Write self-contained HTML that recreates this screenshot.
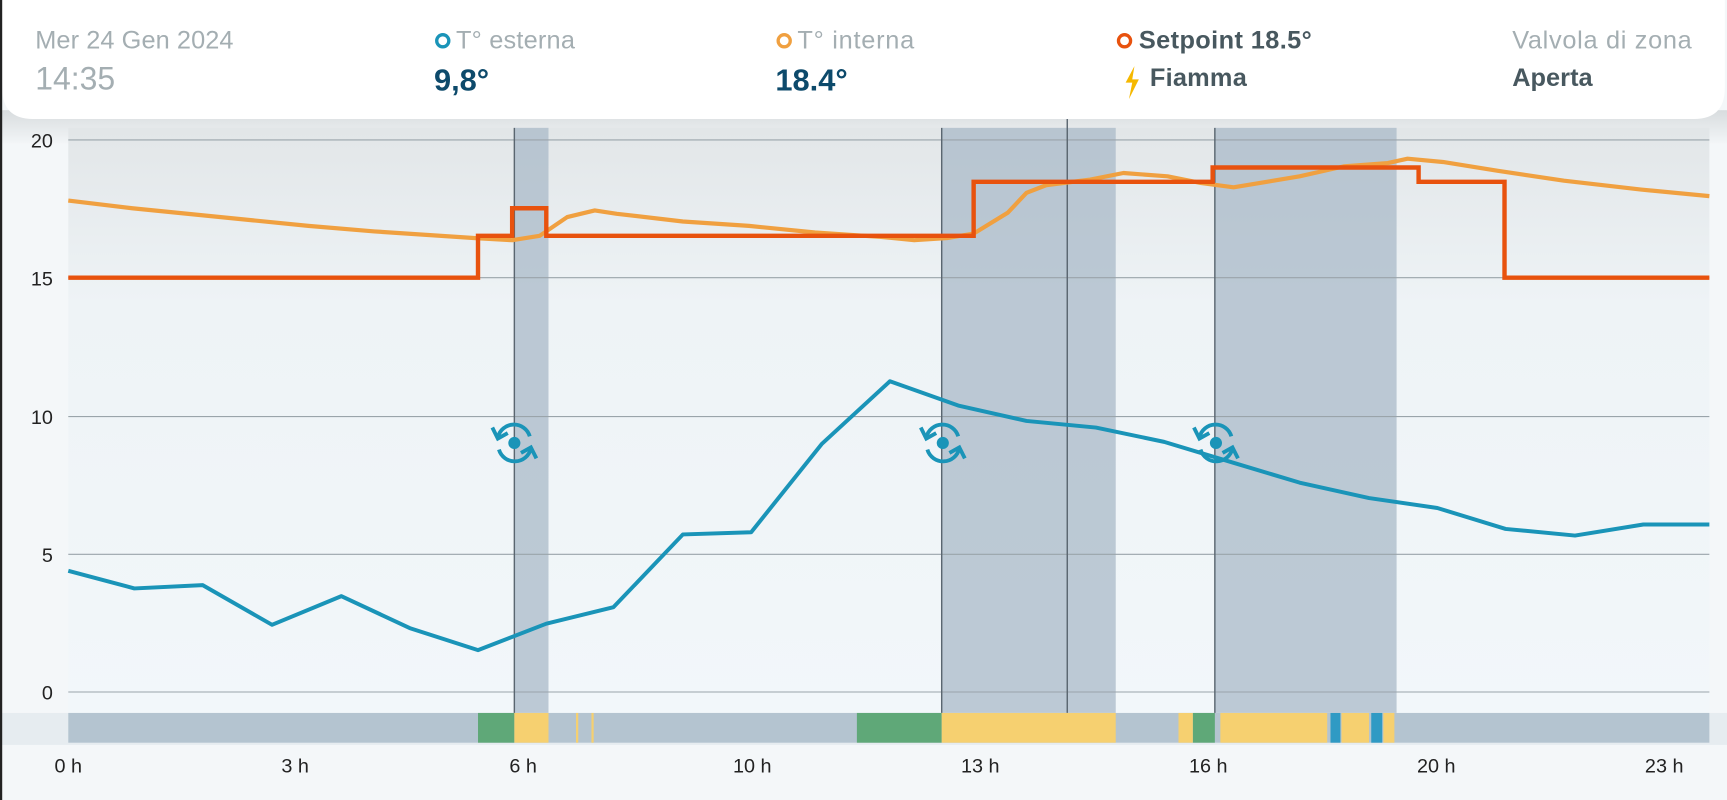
<!DOCTYPE html>
<html><head><meta charset="utf-8"><style>
html,body{margin:0;padding:0;background:#f3f6f8;}
svg{display:block;font-family:"Liberation Sans",sans-serif;}
</style></head><body>
<svg width="1727" height="800" viewBox="0 0 1568 726" preserveAspectRatio="none">
<defs>
<linearGradient id="bg" x1="0" y1="0" x2="0" y2="1">
<stop offset="0" stop-color="#e2e6e8"/><stop offset="0.3" stop-color="#eef3f6"/><stop offset="1" stop-color="#f2f7fa"/>
</linearGradient>
<linearGradient id="sh" x1="0" y1="0" x2="0" y2="1">
<stop offset="0" stop-color="#d8dcde"/><stop offset="1" stop-color="#f2f5f7"/>
</linearGradient>
</defs>
<rect x="0" y="0" width="1568" height="726" fill="#f4f7f9"/>
<rect x="0" y="100" width="1568" height="30" fill="url(#sh)"/>
<rect x="62" y="116" width="1490" height="531" fill="url(#bg)"/>
<g fill="#a9bac8" opacity="0.75">
<rect x="467" y="116" width="31" height="531"/>
<rect x="855" y="116" width="158" height="531"/>
<rect x="1103" y="116" width="165" height="531"/>
</g>
<g stroke="#9aa4aa" stroke-width="1">
<line x1="62" y1="127" x2="1552" y2="127"/>
<line x1="62" y1="252" x2="1552" y2="252"/>
<line x1="62" y1="378" x2="1552" y2="378"/>
<line x1="62" y1="503" x2="1552" y2="503"/>
<line x1="62" y1="628" x2="1552" y2="628"/>
</g>
<g stroke="#5a6670" stroke-width="1.3">
<line x1="467" y1="116" x2="467" y2="647"/>
<line x1="855" y1="116" x2="855" y2="647"/>
<line x1="969" y1="100" x2="969" y2="647"/>
<line x1="1103" y1="116" x2="1103" y2="647"/>
</g>
<g font-size="18" fill="#222" text-anchor="end">
<text x="48" y="134">20</text><text x="48" y="259">15</text><text x="48" y="385">10</text><text x="48" y="510">5</text><text x="48" y="635">0</text>
</g>
<rect x="0" y="647" width="1568" height="29" fill="#e6ecf0"/>
<rect x="62" y="647" width="1490" height="27" fill="#b4c4d0"/>
<g fill="#5fa878">
<rect x="434" y="647" width="33" height="27"/><rect x="778" y="647" width="77" height="27"/><rect x="1083" y="647" width="20" height="27"/>
</g>
<g fill="#f6d070">
<rect x="467" y="647" width="31" height="27"/><rect x="855" y="647" width="158" height="27"/><rect x="1070" y="647" width="13" height="27"/>
<rect x="1108" y="647" width="97" height="27"/><rect x="1218" y="647" width="25" height="27"/><rect x="1256" y="647" width="10" height="27"/>
<rect x="523" y="647" width="2" height="27"/><rect x="537" y="647" width="2" height="27"/>
</g>
<g fill="#2f9ac4"><rect x="1208" y="647" width="9" height="27"/><rect x="1245" y="647" width="10" height="27"/></g>
<g font-size="18" fill="#222" text-anchor="middle">
<text x="62" y="701">0 h</text><text x="268" y="701">3 h</text><text x="475" y="701">6 h</text><text x="683" y="701">10 h</text>
<text x="890" y="701">13 h</text><text x="1097" y="701">16 h</text><text x="1304" y="701">20 h</text><text x="1511" y="701">23 h</text>
</g>
<polyline fill="none" stroke="#f0a040" stroke-width="3.8" stroke-linejoin="round" points="62,182 120,189 230,200 280,205 340,210 430,216 465,218 490,214 515,197 540,191 560,194 620,201 680,205 740,211 800,215 830,218 860,216 884,212 915,193 932,175 950,168 990,163 1020,157 1060,160 1090,166 1120,170 1180,160 1220,151 1260,148 1278,144 1310,147 1360,155 1420,164 1490,172 1552,178"/>
<polyline fill="none" stroke="#e8520e" stroke-width="4" points="62,252 434,252 434,214 465,214 465,189 496,189 496,214 884,214 884,165 1101,165 1101,152 1288,152 1288,165 1366,165 1366,252 1552,252"/>
<polyline fill="none" stroke="#1a94b8" stroke-width="3.6" stroke-linejoin="round" points="62,518 122,534 184,531 247,567 310,541 372,570 434,590 496,566 557,551 620,485 682,483 746,403 808,346 870,368 932,382 995,388 1057,401 1120,420 1180,438 1243,452 1305,461 1367,480 1430,486 1492,476 1552,476"/>
<g id="ic" fill="none" stroke="#1a94b8" stroke-width="3.5">
<path d="M452,397 A15,15 0 0 1 481,396"/>
<path d="M482,407 A15,15 0 0 1 453,408"/>
<path d="M447,388 L452,398 L461,393"/>
<path d="M487,416 L482,406 L473,411"/>
<circle cx="467" cy="402" r="5.5" fill="#1a94b8" stroke="none"/>
</g>
<use href="#ic" x="389" y="0"/>
<use href="#ic" x="637" y="0"/>
<path d="M0,0 H1566 V80 Q1566,108 1538,108 H30 Q2,108 2,80 Z" fill="#fff"/>
<rect x="0" y="0" width="2" height="726" fill="#222"/>
<g font-size="23">
<text x="32" y="44" fill="#a4aeb2" textLength="180">Mer 24 Gen 2024</text>
<text x="32" y="81" fill="#a4aeb2" font-size="29">14:35</text>
<circle cx="402" cy="37" r="5.5" fill="none" stroke="#1a94b8" stroke-width="3"/>
<text x="414" y="44" fill="#a4aeb2" textLength="108">T° esterna</text>
<text x="394" y="82" fill="#0d4a6b" font-size="28" font-weight="bold">9,8°</text>
<circle cx="712" cy="37" r="5.5" fill="none" stroke="#f0a040" stroke-width="3"/>
<text x="724" y="44" fill="#a4aeb2" textLength="106">T° interna</text>
<text x="704" y="82" fill="#0d4a6b" font-size="28" font-weight="bold">18.4°</text>
<circle cx="1021" cy="37" r="5.5" fill="none" stroke="#e8520e" stroke-width="3"/>
<text x="1034" y="44" fill="#48585f" font-weight="bold" textLength="157">Setpoint 18.5°</text>
<path d="M1030,60 L1022,75 L1028,75 L1025,90 L1034,72 L1028,72 Z" fill="#f5b800"/>
<text x="1044" y="78" fill="#48585f" font-weight="bold" textLength="88">Fiamma</text>
<text x="1373" y="44" fill="#a4aeb2" textLength="163">Valvola di zona</text>
<text x="1373" y="78" fill="#48585f" font-weight="bold" textLength="73">Aperta</text>
</g>
</svg>
</body></html>
